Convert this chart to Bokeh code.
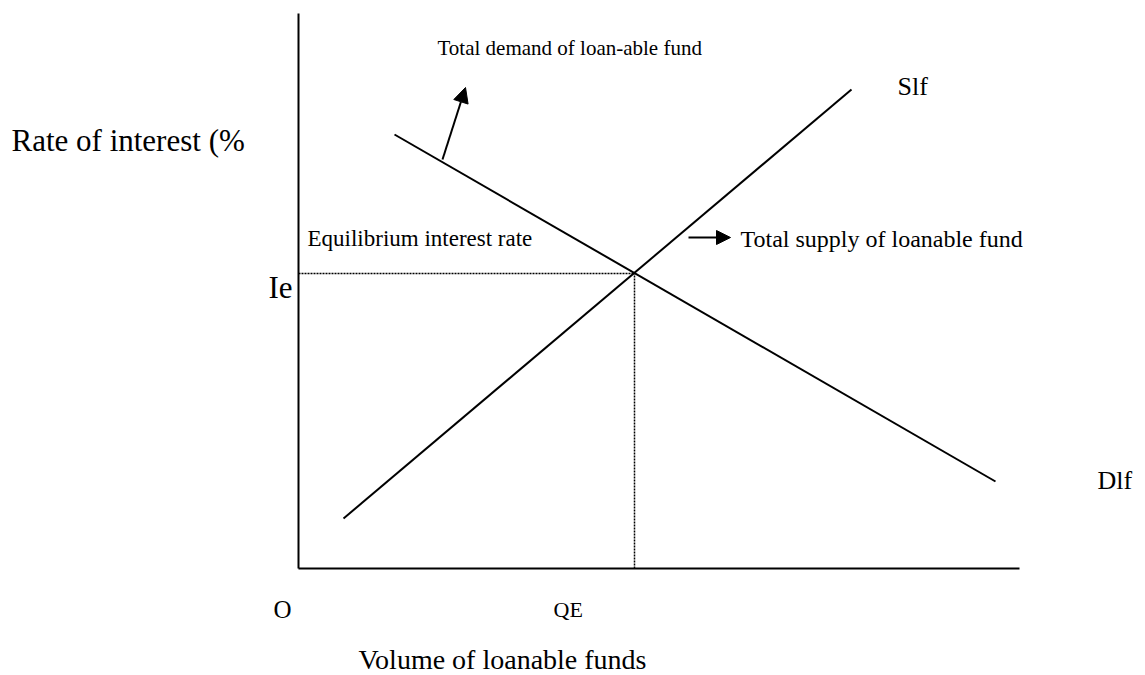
from bokeh.plotting import figure
from bokeh.models import Range1d, Label, Arrow, NormalHead
from bokeh.embed import file_html
from bokeh.resources import INLINE

# ---- data (diagram units: x = volume of loanable funds, y = rate of interest) ----
demand_x = [96, 697]
demand_y = [434, 87]
supply_x = [45, 553]
supply_y = [50, 479]
eq_x = 336
eq_y = 295
axis_x_end = 721
axis_y_end = 555

axis_labels = ["Rate of interest (%", "Volume of loanable funds"]
tick_labels = ["O", "QE", "Ie"]
curve_labels = ["Slf", "Dlf"]
notes = ["Total demand of loan-able fund", "Equilibrium interest rate", "Total supply of loanable fund"]

FONT = "Liberation Serif"

p = figure(width=1145, height=675, x_range=Range1d(-298, 847), y_range=Range1d(-107, 568),
           output_backend="svg", toolbar_location=None,
           x_axis_location=None, y_axis_location=None,
           min_border=0, min_border_left=0, min_border_right=0, min_border_top=0, min_border_bottom=0)
p.grid.visible = False
p.outline_line_color = None
p.background_fill_color = "white"
p.border_fill_color = "white"

# axes
p.line([0, 0], [0, axis_y_end], line_color="black", line_width=2)
p.line([0, axis_x_end], [0, 0], line_color="black", line_width=2)

# curves
p.line(demand_x, demand_y, line_color="black", line_width=2)
p.line(supply_x, supply_y, line_color="black", line_width=2)

# equilibrium guides
p.line([0, eq_x], [eq_y, eq_y], line_color="black", line_width=1.5, line_dash="2 1")
p.line([eq_x, eq_x], [0, eq_y], line_color="black", line_width=1.5, line_dash="2 1")

def sx(v):
    return v - 298

def sy(v):
    return 568 - v

def lab(text, x, y, size):
    p.add_layout(Label(x=sx(x), y=sy(y - 8), text=text, text_font=FONT, text_font_size=f"{size}px",
                       text_color="black", text_baseline="alphabetic", text_align="left"))

lab(axis_labels[0], 11, 148, 31)
lab(axis_labels[1], 358, 667, 28)
lab(tick_labels[0], 273, 617, 25)
lab(tick_labels[1], 553, 617, 22)
lab(tick_labels[2], 268, 295, 31)
lab(curve_labels[0], 897, 94, 26)
lab(curve_labels[1], 1097, 488, 26)
lab(notes[0], 437, 55, 21)
lab(notes[1], 307, 246, 23)
lab(notes[2], 740, 246, 24)

# arrows
p.add_layout(Arrow(end=NormalHead(size=15, fill_color="black", line_color="black", line_width=1),
                   x_start=sx(442), y_start=sy(159), x_end=sx(465), y_end=sy(87),
                   line_color="black", line_width=2))
p.add_layout(Arrow(end=NormalHead(size=14, fill_color="black", line_color="black", line_width=1),
                   x_start=sx(688), y_start=sy(237), x_end=sx(730), y_end=sy(237),
                   line_color="black", line_width=2))

open("out.html", "w").write(file_html(p, INLINE))
